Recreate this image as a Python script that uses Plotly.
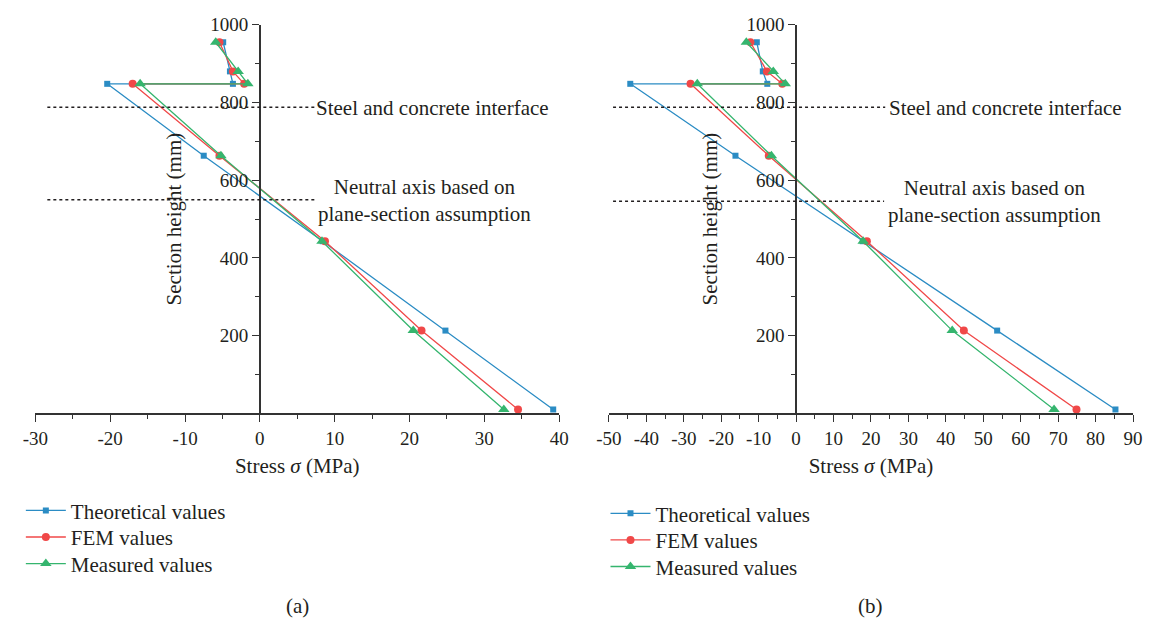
import plotly.graph_objects as go

# ---------------- data ----------------
heights = [955, 880, 848, 848, 663, 443, 213, 10]

theo_a = [-4.9, -4.0, -3.6, -20.4, -7.5, 8.4, 24.8, 39.2]
fem_a = [-5.4, -3.6, -2.1, -17.0, -5.4, 8.7, 21.6, 34.5]
meas_a = [-5.9, -2.9, -1.6, -16.0, -5.2, 8.3, 20.5, 32.6]

theo_b = [-10.5, -8.9, -7.7, -44.3, -16.2, 17.8, 53.7, 85.3]
fem_b = [-12.2, -7.8, -3.7, -28.2, -7.3, 18.9, 44.8, 74.9]
meas_b = [-13.3, -6.1, -2.9, -26.4, -6.6, 17.9, 41.7, 68.9]

series_names = ["Theoretical values", "FEM values", "Measured values"]

x_range_a = [-30, 40]
x_range_b = [-50, 90]
y_range = [0, 1000]
x_ticks_a = list(range(-30, 41, 10))
x_ticks_b = list(range(-50, 91, 10))
y_ticks = [200, 400, 600, 800, 1000]
y_minor = [100, 300, 500, 700, 900]

# reference lines: [x_start, x_end, y]
interface_a = [-28.4, 7.3, 788]
neutral_a = [-28.4, 7.4, 550]
interface_b = [-48.9, 23.8, 788]
neutral_b = [-48.9, 23.5, 546]

# ---------------- style ----------------
W, H = 1155, 618
FONT = "Liberation Serif, Times New Roman, DejaVu Serif, serif"
TXT = "#231f20"
AX = "#333333"
colors = ["#2b8cc4", "#f04848", "#35b56e"]
symbols = ["square", "circle", "triangle-up"]
msizes = [6, 8, 10]

dom_a = [22.8 / W, 556.8 / W]
dom_b = [607.5 / W, 1141.8 / W]
dom_y = [(H - 410) / H, (H - 15) / H]

# legend positions (pixels): x of legend box left, y of item centre
leg_a_x, leg_a_y = 8, [509, 536, 563]
leg_b_x, leg_b_y = 604, [512, 539, 566]


def axis_pos(dom, rng):
    return dom[0] + (0 - rng[0]) / (rng[1] - rng[0]) * (dom[1] - dom[0])


fig = go.Figure()

leg_ids = ["legend", "legend2", "legend3", "legend4", "legend5", "legend6"]
k = 0
for vals_list, xa, ya in [([theo_a, fem_a, meas_a], "x", "y"), ([theo_b, fem_b, meas_b], "x2", "y2")]:
    for vals, name, c, s, ms in zip(vals_list, series_names, colors, symbols, msizes):
        fig.add_trace(go.Scatter(x=vals, y=heights, mode="lines+markers", name=name,
                                 line=dict(color=c, width=1.3),
                                 marker=dict(symbol=s, size=ms, color=c),
                                 xaxis=xa, yaxis=ya, legend=leg_ids[k], cliponaxis=False))
        k += 1

xcommon = dict(showgrid=False, zeroline=False, showline=True, linecolor=AX, linewidth=1.5,
               ticks="outside", ticklen=7, tickwidth=1.3, tickcolor=AX,
               tickfont=dict(family=FONT, size=19, color=TXT),
               minor=dict(ticks="outside", ticklen=4, tickwidth=1.2, tickcolor=AX, dtick=5),
               title=dict(text="Stress <i>σ</i> (MPa)", font=dict(family=FONT, size=21, color=TXT),
                          standoff=10))
ycommon = dict(showgrid=False, zeroline=False, showline=True, linecolor=AX, linewidth=1.5,
               ticks="outside", ticklen=7, tickwidth=1.3, tickcolor=AX, range=y_range,
               tickmode="array", tickvals=y_ticks, ticktext=[str(v) for v in y_ticks],
               tickfont=dict(family=FONT, size=19, color=TXT),
               minor=dict(ticks="outside", ticklen=4, tickwidth=1.2, tickcolor=AX, tickvals=y_minor),
               title=dict(text="Section height (mm)", font=dict(family=FONT, size=21, color=TXT),
                          standoff=22))

leg_font = dict(family=FONT, size=21, color=TXT)
legends = {}
for i, lid in enumerate(leg_ids):
    if i < 3:
        lx, ly = leg_a_x, leg_a_y[i]
    else:
        lx, ly = leg_b_x, leg_b_y[i - 3]
    legends[lid] = dict(x=lx / W, y=(H - ly) / H, xanchor="left", yanchor="middle",
                        font=leg_font, bgcolor="rgba(0,0,0,0)", itemwidth=40,
                        borderwidth=0)

fig.update_layout(
    width=W, height=H, margin=dict(l=0, r=0, t=0, b=0),
    paper_bgcolor="white", plot_bgcolor="white",
    font=dict(family=FONT, color=TXT),
    xaxis=dict(xcommon, domain=dom_a, range=x_range_a, anchor="y",
               tickmode="array", tickvals=x_ticks_a, ticktext=[str(v) for v in x_ticks_a]),
    yaxis=dict(ycommon, domain=dom_y, anchor="free", position=axis_pos(dom_a, x_range_a)),
    xaxis2=dict(xcommon, domain=dom_b, range=x_range_b, anchor="y2",
                tickmode="array", tickvals=x_ticks_b, ticktext=[str(v) for v in x_ticks_b]),
    yaxis2=dict(ycommon, domain=dom_y, anchor="free", position=axis_pos(dom_b, x_range_b)),
    showlegend=True,
    **legends,
)

# dotted reference lines
for (x0, x1, yv), xr, yr in [(interface_a, "x", "y"), (neutral_a, "x", "y"),
                             (interface_b, "x2", "y2"), (neutral_b, "x2", "y2")]:
    fig.add_shape(type="line", x0=x0, x1=x1, y0=yv, y1=yv, xref=xr, yref=yr,
                  line=dict(color="#231f20", width=1.5, dash="dot"))

ann_font = dict(family=FONT, size=21, color=TXT)
fig.add_annotation(x=interface_a[1] + 0.0, y=interface_a[2] - 3, xref="x", yref="y",
                   text="Steel and concrete interface", showarrow=False,
                   xanchor="left", yanchor="middle", font=ann_font)
fig.add_annotation(x=22.0, y=neutral_a[2] - 3, xref="x", yref="y",
                   text="Neutral axis based on<br>plane-section assumption", showarrow=False,
                   xanchor="center", yanchor="middle", align="center", font=ann_font)
fig.add_annotation(x=interface_b[1] + 0.6, y=interface_b[2] - 3, xref="x2", yref="y2",
                   text="Steel and concrete interface", showarrow=False,
                   xanchor="left", yanchor="middle", font=ann_font)
fig.add_annotation(x=53.0, y=neutral_b[2], xref="x2", yref="y2",
                   text="Neutral axis based on<br>plane-section assumption", showarrow=False,
                   xanchor="center", yanchor="middle", align="center", font=ann_font)

# captions
fig.add_annotation(x=(dom_a[0] + dom_a[1]) / 2, y=(H - 606) / H, xref="paper", yref="paper",
                   text="(a)", showarrow=False, xanchor="center", yanchor="middle", font=ann_font)
fig.add_annotation(x=(dom_b[0] + dom_b[1]) / 2, y=(H - 606) / H, xref="paper", yref="paper",
                   text="(b)", showarrow=False, xanchor="center", yanchor="middle", font=ann_font)

fig.write_html("out.html")
